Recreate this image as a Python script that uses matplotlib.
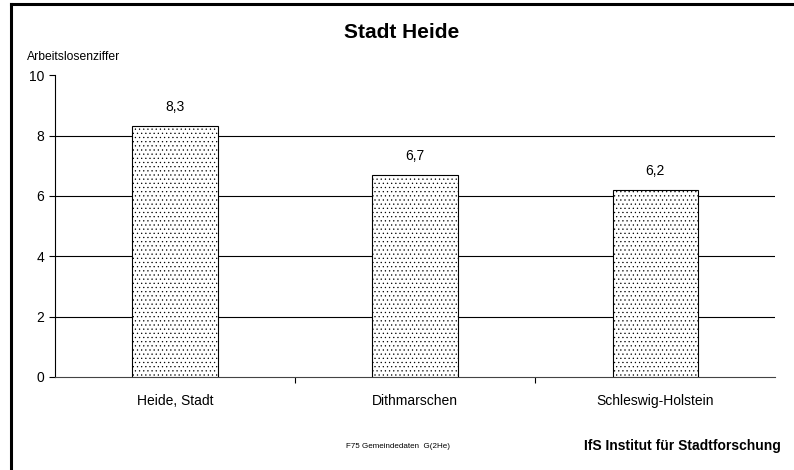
import matplotlib
matplotlib.use("Agg")
import matplotlib.pyplot as plt
from matplotlib.lines import Line2D

plt.rcParams.update({
    "font.family": ["Liberation Sans", "DejaVu Sans"],
    "hatch.linewidth": 0.4,
    "hatch.color": "#707070",
})

categories = ["Heide, Stadt", "Dithmarschen", "Schleswig-Holstein"]
values = [8.3, 6.7, 6.2]
value_labels = ["8,3", "6,7", "6,2"]
yticks = [0, 2, 4, 6, 8, 10]

fig = plt.figure(figsize=(7.94, 4.70), dpi=100)
ax = fig.add_axes([0.0693, 0.198, 0.907, 0.642])

x = list(range(len(categories)))
ax.bar(x, values, width=0.355, facecolor="white", edgecolor="black",
       hatch="....", linewidth=0.8, zorder=3)
for xi, v, lab in zip(x, values, value_labels):
    ax.text(xi, v + 0.4, lab, ha="center", va="bottom", fontsize=10)

ax.set_xlim(-0.5, len(categories) - 0.5)
ax.set_ylim(0, 10)
ax.set_yticks(yticks)
ax.set_yticklabels([str(t) for t in yticks])
for t in yticks[1:-1]:
    ax.axhline(t, color="black", lw=0.8, zorder=1)

ax.set_xticks(x)
ax.set_xticklabels(categories, fontsize=10)
ax.tick_params(axis="x", length=0, pad=12)
ax.set_xticks([0.5, 1.5], minor=True)
ax.tick_params(axis="x", which="minor", length=4, direction="out", width=0.8)
ax.tick_params(axis="y", length=4, width=0.8, labelsize=10, pad=4)

for s in ["top", "right"]:
    ax.spines[s].set_visible(False)
ax.spines["left"].set_linewidth(0.8)
ax.spines["bottom"].set_linewidth(0.8)
ax.spines["bottom"].set_color("#444444")

fig.text(0.506, 0.93, "Stadt Heide", ha="center", va="center",
         fontsize=15, fontweight="bold")
fig.text(0.034, 0.878, "Arbeitslosenziffer", ha="left", va="center", fontsize=8.7)
fig.text(0.436, 0.049, "F75 Gemeindedaten  G(2He)", ha="left", va="center",
         fontsize=5.8)
fig.text(0.983, 0.051, "IfS Institut für Stadtforschung", ha="right",
         va="center", fontsize=10, fontweight="bold")

# border (top and left only, rest cropped)
fig.add_artist(Line2D([0.0139, 1.0], [0.9915, 0.9915], color="black", lw=2.2,
                      transform=fig.transFigure))
fig.add_artist(Line2D([0.0139, 0.0139], [0.0, 0.9915], color="black", lw=2.2,
                      transform=fig.transFigure))

fig.savefig("out.png", dpi=100)
